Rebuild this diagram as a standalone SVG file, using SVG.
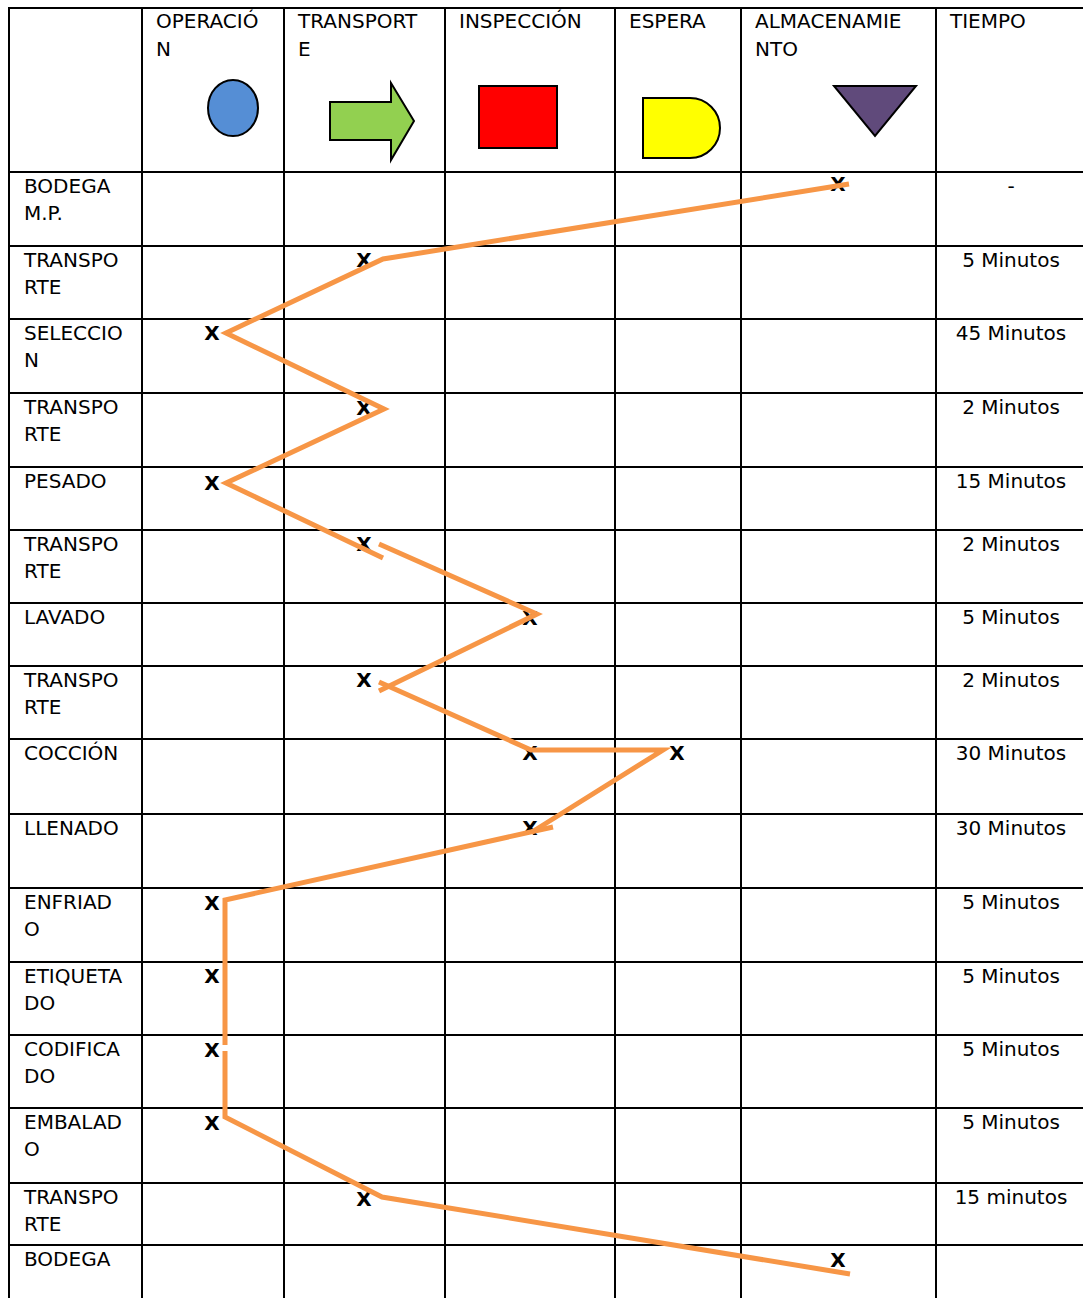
<svg xmlns="http://www.w3.org/2000/svg" width="1083" height="1298" viewBox="0 0 1083 1298">
<style>
.grid line{stroke:#000;stroke-width:2}
text{font-family:"DejaVu Sans","Liberation Sans",sans-serif;font-size:20px;fill:#000}
.t{text-anchor:middle}
.x{font-weight:bold;text-anchor:middle}
.flow{fill:none;stroke:#F79646;stroke-width:5;stroke-linejoin:miter}
.sym{stroke:#000;stroke-width:2}
</style>
<rect width="1083" height="1298" fill="#fff"/>
<g class="grid" id="table">
<line x1="8" y1="8" x2="1083" y2="8"/>
<line x1="8" y1="172" x2="1083" y2="172"/>
<line x1="8" y1="246" x2="1083" y2="246"/>
<line x1="8" y1="319" x2="1083" y2="319"/>
<line x1="8" y1="393" x2="1083" y2="393"/>
<line x1="8" y1="467" x2="1083" y2="467"/>
<line x1="8" y1="530" x2="1083" y2="530"/>
<line x1="8" y1="603" x2="1083" y2="603"/>
<line x1="8" y1="666" x2="1083" y2="666"/>
<line x1="8" y1="739" x2="1083" y2="739"/>
<line x1="8" y1="814" x2="1083" y2="814"/>
<line x1="8" y1="888" x2="1083" y2="888"/>
<line x1="8" y1="962" x2="1083" y2="962"/>
<line x1="8" y1="1035" x2="1083" y2="1035"/>
<line x1="8" y1="1108" x2="1083" y2="1108"/>
<line x1="8" y1="1183" x2="1083" y2="1183"/>
<line x1="8" y1="1245" x2="1083" y2="1245"/>
<line x1="9" y1="7" x2="9" y2="1298"/>
<line x1="142" y1="7" x2="142" y2="1298"/>
<line x1="284" y1="7" x2="284" y2="1298"/>
<line x1="445" y1="7" x2="445" y2="1298"/>
<line x1="615" y1="7" x2="615" y2="1298"/>
<line x1="741" y1="7" x2="741" y2="1298"/>
<line x1="936" y1="7" x2="936" y2="1298"/>
</g>
<g id="header">
<text x="156" y="28">OPERACIÓ</text><text x="156" y="56">N</text>
<text x="298" y="28">TRANSPORT</text><text x="298" y="56">E</text>
<text x="459" y="28">INSPECCIÓN</text>
<text x="629" y="28">ESPERA</text>
<text x="755" y="28">ALMACENAMIE</text><text x="755" y="56">NTO</text>
<text x="950" y="28">TIEMPO</text>
</g>
<g id="sym-operacion"><ellipse class="sym" cx="233" cy="108" rx="25" ry="28" fill="#558ED5"/></g>
<g id="sym-transporte"><polygon class="sym" points="330,102 391,102 391,83 414,121 391,160 391,140 330,140" fill="#92D050"/></g>
<g id="sym-inspeccion"><rect class="sym" x="479" y="86" width="78" height="62" fill="#FF0000"/></g>
<g id="sym-espera"><path class="sym" d="M643,98 H690 A30,30 0 0 1 690,158 H643 Z" fill="#FFFF00"/></g>
<g id="sym-almacenamiento"><polygon class="sym" points="834,86 916,86 875,136" fill="#604A7B"/></g>
<g id="labels">
<text x="24" y="193">BODEGA</text><text x="24" y="220">M.P.</text>
<text x="24" y="267">TRANSPO</text><text x="24" y="294">RTE</text>
<text x="24" y="340">SELECCIO</text><text x="24" y="367">N</text>
<text x="24" y="414">TRANSPO</text><text x="24" y="441">RTE</text>
<text x="24" y="488">PESADO</text>
<text x="24" y="551">TRANSPO</text><text x="24" y="578">RTE</text>
<text x="24" y="624">LAVADO</text>
<text x="24" y="687">TRANSPO</text><text x="24" y="714">RTE</text>
<text x="24" y="760">COCCIÓN</text>
<text x="24" y="835">LLENADO</text>
<text x="24" y="909">ENFRIAD</text><text x="24" y="936">O</text>
<text x="24" y="983">ETIQUETA</text><text x="24" y="1010">DO</text>
<text x="24" y="1056">CODIFICA</text><text x="24" y="1083">DO</text>
<text x="24" y="1129">EMBALAD</text><text x="24" y="1156">O</text>
<text x="24" y="1204">TRANSPO</text><text x="24" y="1231">RTE</text>
<text x="24" y="1266">BODEGA</text>
</g>
<g id="times">
<text class="t" x="1011" y="193">-</text>
<text class="t" x="1011" y="267">5 Minutos</text>
<text class="t" x="1011" y="340">45 Minutos</text>
<text class="t" x="1011" y="414">2 Minutos</text>
<text class="t" x="1011" y="488">15 Minutos</text>
<text class="t" x="1011" y="551">2 Minutos</text>
<text class="t" x="1011" y="624">5 Minutos</text>
<text class="t" x="1011" y="687">2 Minutos</text>
<text class="t" x="1011" y="760">30 Minutos</text>
<text class="t" x="1011" y="835">30 Minutos</text>
<text class="t" x="1011" y="909">5 Minutos</text>
<text class="t" x="1011" y="983">5 Minutos</text>
<text class="t" x="1011" y="1056">5 Minutos</text>
<text class="t" x="1011" y="1129">5 Minutos</text>
<text class="t" x="1011" y="1204">15 minutos</text>
</g>
<g id="marks">
<text class="x" x="838" y="191">X</text>
<text class="x" x="364" y="267">X</text>
<text class="x" x="212" y="340">X</text>
<text class="x" x="364" y="415">X</text>
<text class="x" x="212" y="490">X</text>
<text class="x" x="364" y="551">X</text>
<text class="x" x="530" y="625">X</text>
<text class="x" x="364" y="687">X</text>
<text class="x" x="530" y="760">X</text>
<text class="x" x="677" y="760">X</text>
<text class="x" x="530" y="835">X</text>
<text class="x" x="212" y="910">X</text>
<text class="x" x="212" y="983">X</text>
<text class="x" x="212" y="1057">X</text>
<text class="x" x="212" y="1130">X</text>
<text class="x" x="364" y="1206">X</text>
<text class="x" x="838" y="1267">X</text>
</g>
<g id="connectors">
<polyline class="flow" points="849,184 383,259 226,333 384,409 226,483 383,558"/>
<polyline class="flow" points="379,544 537,614 379,691"/>
<polyline class="flow" points="379,682 531,750 663,750 532,832"/>
<polyline class="flow" points="553,827 225,900 225,1045"/>
<polyline class="flow" points="225,1051 225,1117 382,1197 850,1274"/>
</g>
</svg>
